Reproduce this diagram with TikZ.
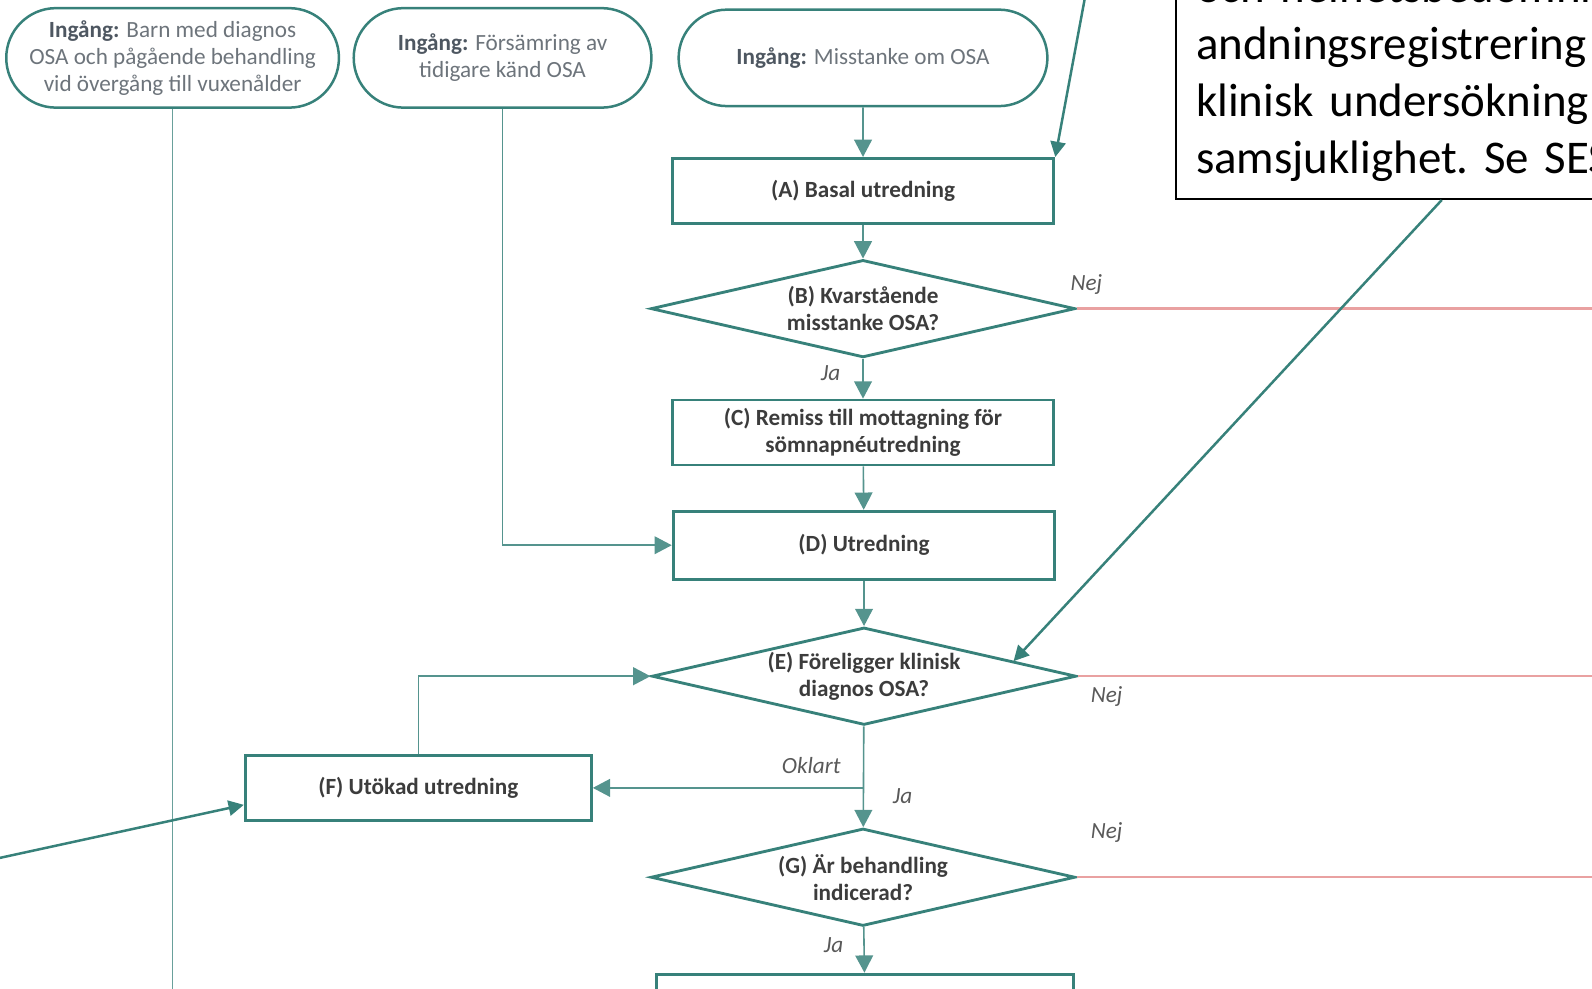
\documentclass[tikz,border=0pt]{standalone}
\usepackage{fontspec}
\setmainfont{Carlito}
\usetikzlibrary{shapes.geometric,shapes.misc,arrows.meta,calc}
\definecolor{teal1}{HTML}{37817A}
\definecolor{txtgray}{HTML}{3C3C3C}
\definecolor{ingray}{HTML}{6D747B}
\definecolor{ingdark}{HTML}{4E5761}
\definecolor{nejred}{HTML}{E9A1A1}
\tikzset{
  box/.style={draw=teal1, line width=1.6pt, rectangle, minimum width=7.52cm,
    minimum height=1.28cm, text=txtgray, align=center,
    font=\fontsize{13}{15.2}\selectfont\bfseries},
  ingang/.style={draw=teal1, line width=1.4pt, rounded rectangle,
    minimum height=1.96cm, text=ingray, align=center,
    font=\fontsize{13}{15.2}\selectfont},
  fraga/.style={draw=teal1, line width=1.6pt, diamond, aspect=4.35,
    minimum width=8.36cm, minimum height=1.92cm, inner sep=0pt,
    text=txtgray, align=center, font=\fontsize{13}{15.2}\selectfont\bfseries},
  flow/.style={draw=teal1!85, line width=0.9pt,
    -{Triangle[length=3.4mm,width=3.5mm]}},
  pil/.style={draw=teal1, line width=1.4pt, -{Triangle[length=3mm,width=3mm]}},
  nej/.style={draw=nejred, line width=1.4pt},
  svar/.style={text=txtgray!85, font=\fontsize{13}{15}\selectfont\itshape},
  callout/.style={draw=black, line width=1.1pt, text=black, align=left,
    text width=12cm, inner xsep=0.4cm, inner ysep=10pt,
    font=\fontsize{26.3}{31.9}\selectfont\frenchspacing}
}
\newcommand{\ing}{\textbf{\color{ingdark}Ingång:}}
\begin{document}
\begin{tikzpicture}[x=0.02cm, y=-0.02cm]
   \useasboundingbox (0,0) rectangle (1568,974);
   \clip (0,0) rectangle (1568,974);

   \node[ingang, minimum width=6.4cm] (S1) at (170,57)
     {\ing{} Barn med diagnos\\OSA och pågående behandling\\vid övergång till vuxenålder};
   \node[ingang, minimum width=6.1cm] (S2) at (495,57)
     {\ing{} Försämring av\\tidigare känd OSA};
   \node[ingang, minimum width=7.5cm, minimum height=1.9cm] (S3) at (850,57)
     {\ing{} Misstanke om OSA};

   \node[box] (A) at (850,188) {(A) Basal utredning};
   \node[fraga] (B) at (850,304) {(B) Kvarstående\\misstanke OSA?};
   \node[box] (C) at (850,426) {(C) Remiss till mottagning för\\sömnapnéutredning};
   \node[box, minimum height=1.34cm] (D) at (851,537) {(D) Utredning};
   \node[fraga] (E) at (851,666) {(E) Föreligger klinisk\\diagnos OSA?};
   \node[box, minimum width=6.82cm] (F) at (412,776) {(F) Utökad utredning};
   \node[fraga] (G) at (850,864) {(G) Är behandling\\indicerad?};
   \node[box, minimum width=8.22cm, minimum height=1.5cm, anchor=north] (H) at (852,958) {};

   \node[callout, anchor=south west] (note) at (1157,197)
     {och helhetsbedömning\\andningsregistrering\\klinisk undersökning\\samsjuklighet. Se SES};

   \coordinate (rand) at (1600,0);
   \coordinate (botten) at (0,1000);
   \coordinate (topfree) at (1070,-10);
   \coordinate (leftfree) at (-5,846);

   \draw[flow] (S3) -- (A);
   \draw[flow] (A) -- (B);
   \draw[flow] (B) -- (C);
   \draw[flow] (C) -- (D);
   \draw[flow] (D) -- (E);
   \draw[flow] (E) -- (G);
   \draw[flow] (G) -- (H);
   \draw[flow] (E.south |- F.east) -- (F.east);
   \draw[flow] (F.north) |- (E.west);
   \draw[flow] (S2.south) |- (D.west);
   \draw[draw=teal1!75, line width=0.9pt] (S1.south) -- (S1.south |- botten);

   \foreach \q in {B,E,G} {
     \draw[nej] (\q.east) -- (\q.east -| rand);
   }

   \node[svar] (nejB) at (1070,280) {Nej};
   \node[svar] (jaB) at (818,368) {Ja};
   \node[svar] (nejE) at (1090,686) {Nej};
   \node[svar] (oklart) at (799,754) {Oklart};
   \node[svar] (jaE) at (889,784) {Ja};
   \node[svar] (nejG) at (1090,820) {Nej};
   \node[svar] (jaG) at (821,931) {Ja};

   \draw[pil] (topfree) -- (A.north east);
   \draw[pil] ($(note.south west)+(263,0)$) -- ($(E.north)!0.7!(E.east)$);
   \draw[pil] (leftfree) -- ($(F.south west)!0.25!(F.north west)$);
\end{tikzpicture}
\end{document}
